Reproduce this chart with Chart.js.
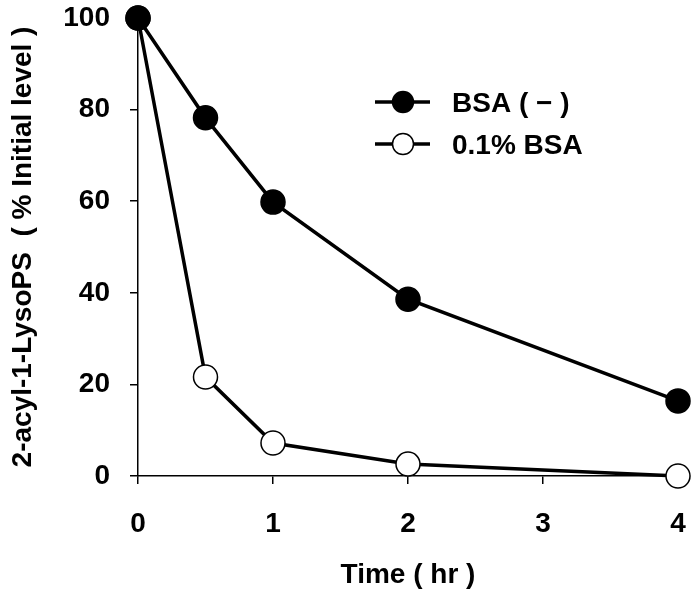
<!DOCTYPE html>
<html>
<head>
<meta charset="utf-8">
<script src="https://cdn.jsdelivr.net/npm/chart.js@4"></script>
<style>
  html, body { margin: 0; padding: 0; background: #fff; }
  #wrap { width: 697px; height: 599px; }
</style>
</head>
<body>
<div id="wrap"><canvas id="lysoChart" width="697" height="599"></canvas></div>
<script>
// Time points (hr) and % of initial level
var timePoints = [0, 0.5, 1, 2, 4];
var bsaNone = [100, 78.2, 59.8, 38.6, 16.4];
var bsa01 = [100, 21.6, 7.2, 2.6, 0];
var seriesLabels = ['BSA ( \u2212 )', '0.1% BSA'];
var xTicks = [0, 1, 2, 3, 4];
var yTicks = [0, 20, 40, 60, 80, 100];

var FONT = '"Liberation Sans", Arial, sans-serif';

function toPoints(xs, ys) {
    return xs.map(function (x, i) { return { x: x, y: ys[i] }; });
}

// Draws the line+marker legend inside the plot
var lineLegend = {
    id: 'lineLegend',
    afterDraw: function (chart) {
        var ctx = chart.ctx;
        var x0 = 375, x1 = 430, mx = 403, tx = 452;
        var rows = [102, 144];
        ctx.save();
        chart.data.datasets.forEach(function (ds, i) {
            var y = rows[i];
            ctx.strokeStyle = '#000';
            ctx.lineWidth = 3.5;
            ctx.beginPath();
            ctx.moveTo(x0, y);
            ctx.lineTo(x1, y);
            ctx.stroke();
            ctx.beginPath();
            ctx.arc(mx, y, 10.5, 0, Math.PI * 2);
            ctx.fillStyle = ds.pointBackgroundColor;
            ctx.fill();
            ctx.lineWidth = 1.5;
            ctx.stroke();
            ctx.fillStyle = '#000';
            ctx.font = 'bold 28px ' + FONT;
            ctx.textBaseline = 'middle';
            ctx.textAlign = 'left';
            ctx.fillText(ds.label, tx, y + 2);
        });
        ctx.restore();
    }
};

var ctx = document.getElementById('lysoChart').getContext('2d');
var lysoChart = new Chart(ctx, {
    type: 'line',
    data: {
        datasets: [{
            label: seriesLabels[0],
            data: toPoints(timePoints, bsaNone),
            borderColor: '#000',
            borderWidth: 3.5,
            pointRadius: 12,
            pointBackgroundColor: '#000',
            pointBorderColor: '#000',
            pointBorderWidth: 1.5,
            tension: 0,
            clip: false
        }, {
            label: seriesLabels[1],
            data: toPoints(timePoints, bsa01),
            borderColor: '#000',
            borderWidth: 3.5,
            pointRadius: 12,
            pointBackgroundColor: '#fff',
            pointBorderColor: '#000',
            pointBorderWidth: 1.5,
            tension: 0,
            clip: false
        }]
    },
    options: {
        responsive: false,
        animation: false,
        layout: { padding: 0 },
        plugins: {
            legend: { display: false },
            tooltip: { enabled: false }
        },
        scales: {
            x: {
                type: 'linear',
                min: 0,
                max: 4,
                afterFit: function (scale) {
                    scale.height = 123;
                    scale.paddingLeft = 0;
                    scale.paddingRight = 19;
                },
                afterBuildTicks: function (scale) {
                    scale.ticks = xTicks.map(function (v) { return { value: v }; });
                },
                grid: { drawOnChartArea: false, drawTicks: true, tickLength: 8, color: '#000', lineWidth: 1.5 },
                border: { display: true, color: '#000', width: 1.5 },
                ticks: {
                    color: '#000',
                    padding: 23,
                    font: { family: FONT, size: 28, weight: 'bold' }
                },
                title: {
                    display: true,
                    text: 'Time ( hr )',
                    color: '#000',
                    padding: { top: 0, bottom: 7 },
                    font: { family: FONT, size: 28, weight: 'bold' }
                }
            },
            y: {
                type: 'linear',
                min: 0,
                max: 100,
                afterFit: function (scale) {
                    scale.width = 138;
                    scale.paddingTop = 18;
                    scale.paddingBottom = 0;
                },
                afterBuildTicks: function (scale) {
                    scale.ticks = yTicks.map(function (v) { return { value: v }; });
                },
                grid: { drawOnChartArea: false, drawTicks: true, tickLength: 8, color: '#000', lineWidth: 1.5 },
                border: { display: true, color: '#000', width: 1.5 },
                ticks: {
                    color: '#000',
                    padding: 20,
                    font: { family: FONT, size: 28, weight: 'bold' }
                },
                title: {
                    display: true,
                    text: '2-acyl-1-LysoPS  ( % Initial level )',
                    color: '#000',
                    padding: { top: 6, bottom: 0 },
                    font: { family: FONT, size: 28, weight: 'bold' }
                }
            }
        }
    },
    plugins: [lineLegend]
});
</script>
</body>
</html>
